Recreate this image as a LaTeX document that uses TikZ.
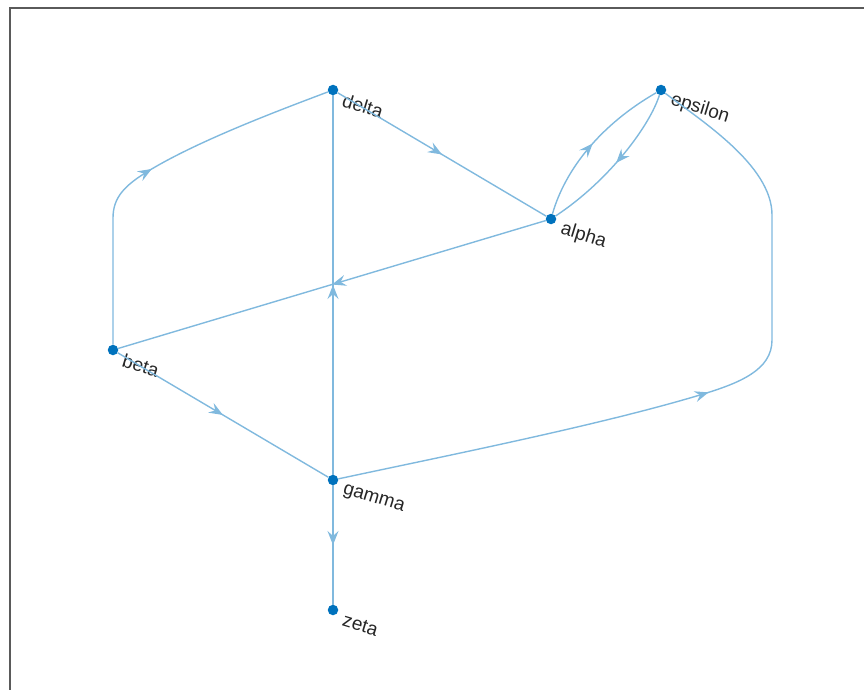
\documentclass[tikz,border=0pt]{standalone}
\usepackage{fontspec}
\setmainfont{Liberation Sans}
\usetikzlibrary{arrows.meta,decorations.markings}
\definecolor{nodeblue}{RGB}{0,114,189}
\definecolor{edgeblue}{RGB}{128,185,222}
\definecolor{framegray}{RGB}{90,90,90}
\begin{document}
\begin{tikzpicture}[x=1pt,y=-1pt,
  vtx/.style={circle,fill=nodeblue,inner sep=0pt,minimum size=10.5pt},
  lbl/.style={anchor=west,rotate=-17,font=\fontsize{19}{21}\selectfont,inner sep=0pt,text=black!85},
  edge/.style={draw=edgeblue,line width=1.4pt,postaction={decorate},
    decoration={markings,mark=at position 0.5 with {\arrow[edgeblue]{Stealth[length=14pt,width=11pt,inset=5pt]}}}}]
\useasboundingbox (0,0) rectangle (864,690);
\draw[framegray,line width=1.3pt] (10,690) -- (10,8) -- (864,8);
% vertices
\node[vtx] (delta) at (333,90) {};
\node[vtx] (epsilon) at (661,90) {};
\node[vtx] (alpha) at (551,219) {};
\node[vtx] (beta) at (113,350) {};
\node[vtx] (gamma) at (333,480) {};
\node[vtx] (zeta) at (333,610) {};
% labels
\node[lbl] (ldelta) at ([shift={(10,10)}]delta.center) {delta};
\node[lbl] (lepsilon) at ([shift={(10,10)}]epsilon.center) {epsilon};
\node[lbl] (lalpha) at ([shift={(10,10)}]alpha.center) {alpha};
\node[lbl] (lbeta) at ([shift={(10,10)}]beta.center) {beta};
\node[lbl] (lgamma) at ([shift={(10,10)}]gamma.center) {gamma};
\node[lbl] (lzeta) at ([shift={(10,10)}]zeta.center) {zeta};
% edges
\draw[edge] (beta) -- (113,218) .. controls (113,197) and (125,185) .. (150,170) .. controls (200,140) and (280,110) .. (delta);
\draw[edge] (delta) -- (alpha);
\draw[edge] (alpha) .. controls (565,170) and (600,125) .. (epsilon);
\draw[edge] (epsilon) .. controls (650,125) and (610,180) .. (alpha);
\draw[edge] (alpha) -- (beta);
\draw[edge] (gamma) -- (delta);
\draw[edge] (beta) -- (gamma);
\draw[edge] (gamma) -- (zeta);
\draw[edge] (gamma) .. controls (450,455) and (600,425) .. (700,395) .. controls (740,383) and (772,370) .. (772,340) -- (772,215) .. controls (772,165) and (700,120) .. (epsilon);
\end{tikzpicture}
\end{document}
